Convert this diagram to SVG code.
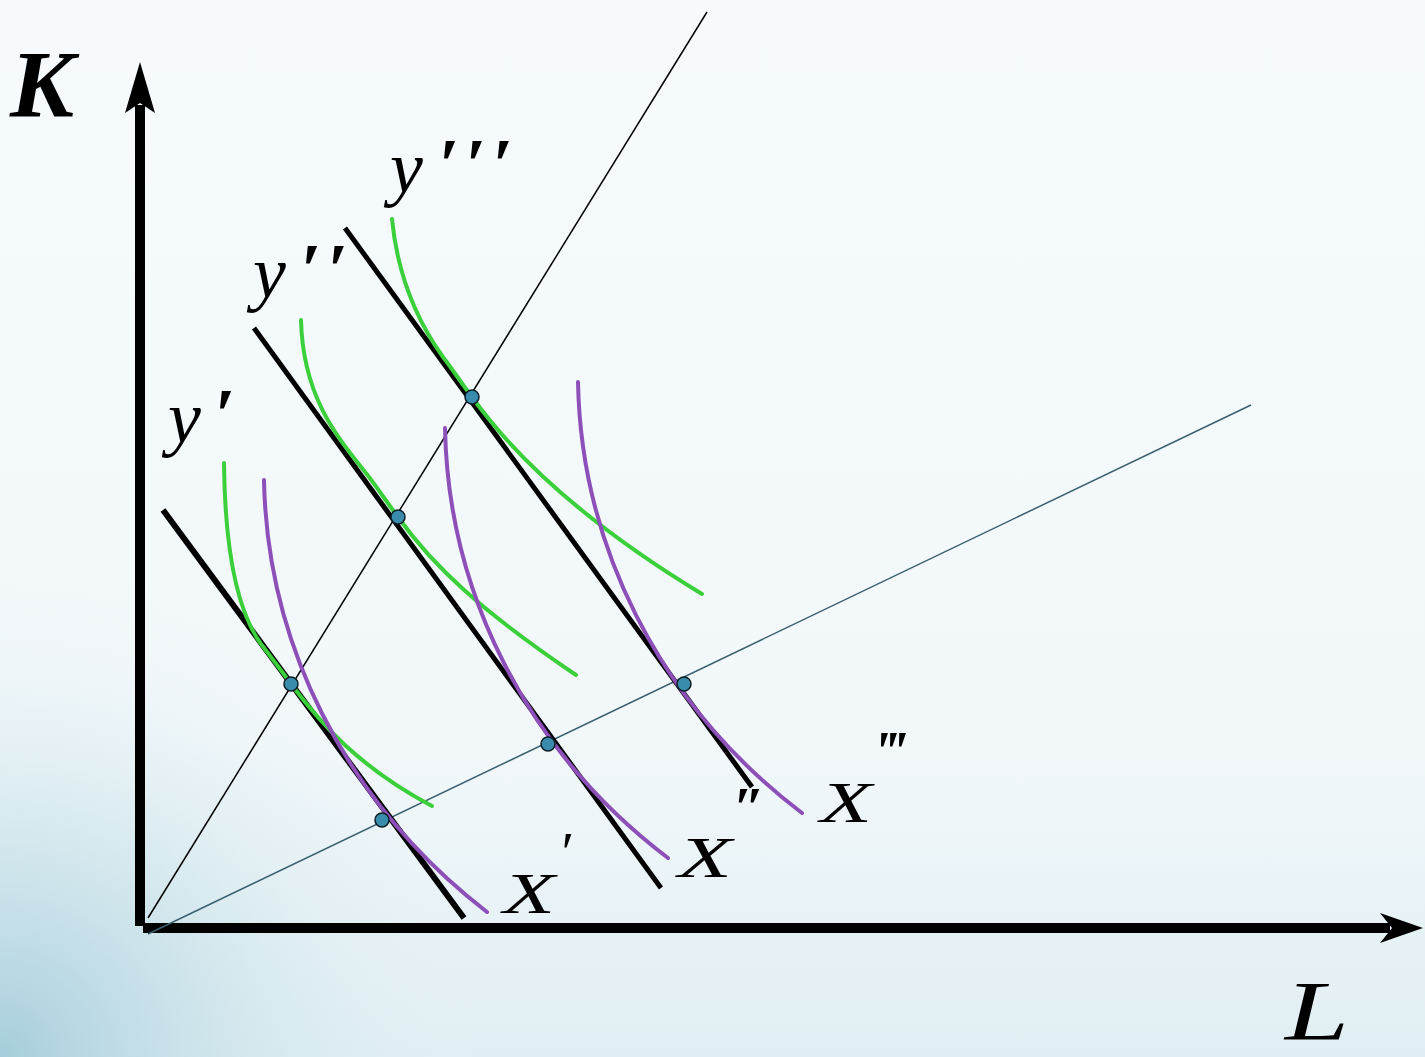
<svg xmlns="http://www.w3.org/2000/svg" width="1425" height="1057" viewBox="0 0 1425 1057">
<defs>
<linearGradient id="bgv" x1="0" y1="0" x2="0" y2="1">
<stop offset="0" stop-color="#f6fafd"/>
<stop offset="0.7" stop-color="#f2f8fa"/>
<stop offset="1" stop-color="#e0eef3"/>
</linearGradient>
<radialGradient id="bgr" gradientUnits="userSpaceOnUse" cx="0" cy="1057" r="480">
<stop offset="0" stop-color="#a6cddc" stop-opacity="1"/>
<stop offset="0.45" stop-color="#c6e0e8" stop-opacity="0.65"/>
<stop offset="1" stop-color="#e8f2f6" stop-opacity="0"/>
</radialGradient>
<style>
.ax{stroke:#000;stroke-width:10;fill:none}
.ah{fill:#000}
.ray{stroke:#000;stroke-width:1.5;fill:none}
.ray2{stroke:#3a6070;stroke-width:1.5;fill:none}
.bl{stroke:#000;stroke-width:5;fill:none;stroke-linecap:butt}
.g{stroke:#3ccf3c;stroke-width:4;fill:none;stroke-linecap:round}
.p{stroke:#8d4fb8;stroke-width:4;fill:none;stroke-linecap:round}
.dot{fill:#3a8cac;stroke:#0d1f26;stroke-width:1.5}
.lab{font-family:"Liberation Serif","DejaVu Serif",serif;font-style:italic;fill:#000}
</style>
</defs>
<rect width="1425" height="1057" fill="url(#bgv)"/>
<rect width="1425" height="1057" fill="url(#bgr)"/>
<g id="axes">
<line class="ax" x1="140" y1="926" x2="140" y2="105"/>
<polygon class="ah" points="140,62 155,113 140,103 125,113"/>
<line class="ax" x1="143" y1="928" x2="1390" y2="928"/>
<polygon class="ah" points="1423,928 1380,913 1392,928 1380,943"/>
</g>
<g id="connectors">
<line class="ray" x1="148" y1="918" x2="707" y2="12"/>
<line class="ray2" x1="148" y1="934" x2="1251" y2="405"/>
<line class="bl" x1="163" y1="510" x2="464" y2="918" style="stroke-width:6"/>
<line class="bl" x1="254" y1="328" x2="661" y2="888"/>
<line class="bl" x1="345" y1="228" x2="752" y2="787"/>
</g>
<g id="isoquant-y1"><path class="g" d="M224,463 C225,560 240,615 261,644 C271,657 281,670 291,684 C321,724 360,768 432,806"/></g>
<g id="isoquant-y2"><path class="g" d="M301,320 C303,400 340,440 369,477 C379,490 388,504 398,517 C433,566 480,610 576,675"/></g>
<g id="isoquant-y3"><path class="g" d="M392,219 C398,280 420,325 443,357 C453,370 462,384 472,397 C513,454 580,520 702,594"/></g>
<g id="isoquant-x1"><path class="p" d="M264,480 C267,640 342,800 487,912"/></g>
<g id="isoquant-x2"><path class="p" d="M445,428 C448,588 523,748 668,858"/></g>
<g id="isoquant-x3"><path class="p" d="M578,382 C581,542 656,702 802,813"/></g>
<g id="points">
<circle class="dot" cx="291" cy="684" r="7"/>
<circle class="dot" cx="398" cy="517" r="7"/>
<circle class="dot" cx="472" cy="397" r="7"/>
<circle class="dot" cx="382" cy="820" r="7"/>
<circle class="dot" cx="548" cy="744" r="7"/>
<circle class="dot" cx="684" cy="684" r="7"/>
</g>
<g id="labels">
<text class="lab" x="10" y="117" font-size="96" font-weight="bold">K</text>
<text class="lab" x="1285" y="1040" font-size="84" textLength="64" lengthAdjust="spacingAndGlyphs">L</text>
<text class="lab" x="390" y="192" font-size="74">y</text>
<text class="lab" x="438" y="190" font-size="74" font-weight="bold" letter-spacing="6">′′′</text>
<text class="lab" x="253" y="297" font-size="74">y</text>
<text class="lab" x="300" y="295" font-size="74" font-weight="bold" letter-spacing="6">′′</text>
<text class="lab" x="168" y="442" font-size="74">y</text>
<text class="lab" x="214" y="440" font-size="74" font-weight="bold">′</text>
<text class="lab" x="503" y="913" font-size="58" textLength="52" lengthAdjust="spacingAndGlyphs">X</text>
<text class="lab" x="558" y="872" font-size="58">′</text>
<text class="lab" x="678" y="877" font-size="58" textLength="54" lengthAdjust="spacingAndGlyphs">X</text>
<text class="lab" x="733" y="827" font-size="58" font-weight="bold">″</text>
<text class="lab" x="820" y="822" font-size="58" textLength="52" lengthAdjust="spacingAndGlyphs">X</text>
<text class="lab" x="874" y="771" font-size="58" font-weight="bold">‴</text>
</g>
</svg>
